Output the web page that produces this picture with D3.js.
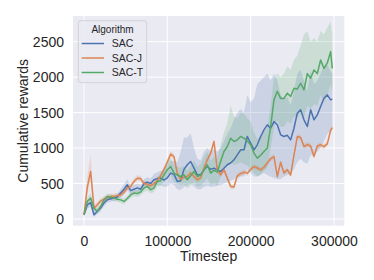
<!DOCTYPE html>
<html lang="en">
<head>
    <meta charset="UTF-8">
    <title>Cumulative rewards</title>
    <script src="https://d3js.org/d3.v7.min.js"></script>
    <style>
        body, html {
            margin: 0;
            background-color: #ffffff;
        }
        text {
            font-family: "Liberation Sans", Arial, sans-serif;
            fill: #262626;
        }
    </style>
</head>
<body>
<div id="chart"></div>
<script>
// timesteps (x)
var timesteps = [0, 4000, 8000, 12000, 16000, 20000, 24000, 28000, 32000, 36000,
    40000, 44000, 48000, 52000, 56000, 60000, 64000, 68000, 72000, 76000,
    80000, 84000, 88000, 92000, 96000, 100000, 104000, 108000, 112000, 116000,
    120000, 124000, 128000, 132000, 136000, 140000, 144000, 148000, 152000, 156000,
    160000, 164000, 168000, 172000, 176000, 180000, 184000, 188000, 192000, 196000,
    200000, 204000, 208000, 212000, 216000, 220000, 224000, 228000, 232000, 236000,
    240000, 244000, 248000, 252000, 256000, 260000, 264000, 268000, 272000, 276000,
    280000, 284000, 288000, 292000, 296000, 298000];

var algorithms = ["SAC", "SAC-J", "SAC-T"];

// SAC
var sacMean = [60, 200, 230, 60, 107, 155, 225, 272, 285, 295,
    310, 366, 420, 483, 400, 420, 440, 420, 500, 520,
    500, 553, 570, 577, 550, 580, 647, 630, 530, 540,
    700, 765, 811, 717, 624, 624, 694, 740, 700, 717,
    694, 670, 717, 765, 790, 835, 905, 975, 975, 1163,
    1070, 975, 1046, 1163, 1257, 1327, 1280, 1374, 1330, 1187,
    1163, 1180, 1116, 1280, 1492, 1540, 1398, 1304, 1540, 1400,
    1468, 1585, 1703, 1750, 1680, 1690];
var sacLow = [40, 150, 170, 30, 70, 110, 180, 230, 245, 255,
    265, 310, 350, 410, 340, 360, 380, 360, 440, 450,
    430, 470, 480, 480, 450, 460, 500, 480, 420, 410,
    450, 480, 500, 460, 420, 420, 450, 470, 450, 460,
    470, 480, 500, 520, 540, 560, 580, 600, 600, 700,
    650, 600, 600, 620, 650, 620, 600, 580, 560, 560,
    600, 620, 640, 700, 800, 850, 800, 780, 900, 900,
    950, 1000, 1100, 1200, 1250, 1300];
var sacHigh = [80, 260, 290, 100, 150, 200, 270, 310, 325, 335,
    355, 420, 490, 560, 460, 480, 500, 480, 560, 590,
    570, 640, 660, 680, 680, 760, 820, 820, 800, 950,
    1150, 1150, 1210, 1000, 850, 830, 950, 1000, 960, 980,
    950, 1000, 1100, 1200, 1280, 1400, 1500, 1550, 1500, 1750,
    1650, 1700, 1900, 1950, 2000, 2050, 1950, 2050, 1950, 1750,
    1700, 1720, 1600, 1800, 2050, 2100, 1950, 1800, 2100, 1900,
    1950, 2050, 2150, 2180, 2080, 2050];

// SAC-J
var sacjMean = [60, 450, 670, 150, 200, 255, 280, 300, 320, 318,
    330, 340, 380, 436, 460, 530, 575, 570, 500, 490,
    470, 500, 540, 610, 700, 800, 915, 880, 640, 560,
    590, 600, 647, 600, 553, 580, 718, 835, 929, 1092,
    694, 624, 694, 577, 460, 450, 610, 640, 660, 647,
    700, 740, 720, 694, 730, 788, 850, 880, 600, 800,
    650, 694, 620, 900, 1163, 1150, 1022, 1050, 1030, 881,
    1030, 1046, 1020, 1060, 1250, 1290];
var sacjLow = [40, 350, 560, 110, 160, 215, 240, 260, 280, 280,
    290, 300, 340, 395, 420, 490, 535, 530, 460, 450,
    430, 460, 500, 570, 660, 760, 870, 840, 610, 530,
    555, 565, 610, 565, 520, 545, 680, 800, 890, 1050,
    660, 590, 660, 540, 425, 415, 575, 605, 625, 610,
    665, 705, 685, 660, 695, 750, 815, 845, 565, 765,
    615, 660, 585, 865, 1125, 1115, 985, 1015, 995, 845,
    995, 1010, 985, 1025, 1215, 1255];
var sacjHigh = [80, 600, 910, 200, 240, 295, 320, 340, 360, 360,
    370, 380, 420, 480, 500, 570, 620, 610, 540, 530,
    510, 540, 580, 650, 740, 850, 960, 920, 680, 600,
    625, 635, 680, 635, 590, 615, 755, 870, 970, 1130,
    730, 660, 730, 615, 495, 485, 645, 675, 695, 685,
    735, 775, 755, 730, 765, 825, 885, 915, 635, 835,
    685, 730, 655, 935, 1200, 1185, 1060, 1085, 1065, 915,
    1065, 1080, 1055, 1095, 1285, 1325];

// SAC-T
var sactMean = [60, 250, 295, 150, 110, 177, 270, 318, 310, 295,
    280, 270, 248, 290, 340, 366, 360, 380, 436, 460,
    412, 440, 530, 540, 624, 694, 740, 647, 620, 600,
    620, 553, 610, 670, 600, 620, 694, 765, 647, 690,
    660, 811, 952, 1022, 1140, 1093, 1116, 1163, 1140, 1100,
    1046, 929, 858, 900, 952, 1000, 1304, 1680, 1800, 1700,
    1700, 1773, 1727, 1844, 1830, 1914, 1820, 2050, 1985, 2100,
    2050, 2242, 2124, 2200, 2360, 2124];
var sactLow = [40, 200, 230, 110, 80, 140, 230, 280, 270, 255,
    240, 230, 210, 250, 300, 320, 310, 330, 380, 400,
    360, 380, 460, 460, 530, 590, 620, 530, 500, 480,
    490, 430, 470, 520, 460, 470, 520, 580, 480, 500,
    470, 600, 700, 750, 800, 760, 780, 800, 780, 750,
    720, 650, 600, 630, 680, 720, 1000, 1300, 1400, 1300,
    1300, 1380, 1350, 1450, 1420, 1500, 1420, 1600, 1550, 1620,
    1600, 1750, 1650, 1750, 1900, 1800];
var sactHigh = [80, 310, 360, 200, 150, 220, 310, 360, 350, 335,
    320, 310, 290, 330, 380, 410, 410, 430, 490, 520,
    470, 500, 600, 620, 720, 800, 860, 770, 740, 720,
    750, 680, 750, 820, 740, 770, 870, 950, 820, 880,
    850, 1050, 1220, 1350, 1600, 1450, 1420, 1500, 1480, 1420,
    1370, 1220, 1120, 1170, 1230, 1280, 1600, 1980, 2050, 2000,
    2050, 2150, 2100, 2250, 2300, 2450, 2600, 2650, 2500, 2550,
    2500, 2650, 2600, 2700, 2780, 2600];

var xTicks = [0, 100000, 200000, 300000];
var yTicks = [0, 500, 1000, 1500, 2000, 2500];

var series = [
    {name: "SAC", mean: sacMean, low: sacLow, high: sacHigh},
    {name: "SAC-J", mean: sacjMean, low: sacjLow, high: sacjHigh},
    {name: "SAC-T", mean: sactMean, low: sactLow, high: sactHigh}
];

var color = d3.scaleOrdinal()
    .domain(algorithms)
    .range(["#4c72b0", "#dd8452", "#55a868"]);

var W = 374, H = 280;
var plot = {left: 73, right: 344.3, top: 16, bottom: 225.7};

var svg = d3.select("#chart")
  .append("svg")
    .attr("width", W)
    .attr("height", H);

var x = d3.scaleLinear()
    .domain([-13200, 312400])
    .range([plot.left, plot.right]);

var y = d3.scaleLinear()
    .domain([-94, 2862])
    .range([plot.bottom, plot.top]);

// axes background
svg.append("rect")
    .attr("x", plot.left)
    .attr("y", plot.top)
    .attr("width", plot.right - plot.left)
    .attr("height", plot.bottom - plot.top)
    .attr("fill", "#eaeaf2");

// grid lines
svg.selectAll(".vgrid")
    .data(xTicks)
    .enter().append("line")
    .attr("x1", d => x(d)).attr("x2", d => x(d))
    .attr("y1", plot.top).attr("y2", plot.bottom)
    .attr("stroke", "#ffffff")
    .attr("stroke-width", 1);

svg.selectAll(".hgrid")
    .data(yTicks)
    .enter().append("line")
    .attr("x1", plot.left).attr("x2", plot.right)
    .attr("y1", d => y(d)).attr("y2", d => y(d))
    .attr("stroke", "#ffffff")
    .attr("stroke-width", 1);

// x axis
var xAxis = svg.append("g")
    .attr("transform", "translate(0," + plot.bottom + ")")
    .call(d3.axisBottom(x).tickValues(xTicks).tickSize(0).tickPadding(10).tickFormat(d3.format("d")));
xAxis.select(".domain").remove();
xAxis.selectAll("text")
    .attr("font-size", 14)
    .attr("font-family", "Liberation Sans, Arial, sans-serif")
    .attr("fill", "#262626");

// y axis
var yAxis = svg.append("g")
    .attr("transform", "translate(" + plot.left + ",0)")
    .call(d3.axisLeft(y).tickValues(yTicks).tickSize(0).tickPadding(9).tickFormat(d3.format("d")));
yAxis.select(".domain").remove();
yAxis.selectAll("text")
    .attr("font-size", 14)
    .attr("font-family", "Liberation Sans, Arial, sans-serif")
    .attr("fill", "#262626");

// axis labels
svg.append("text")
    .attr("x", (plot.left + plot.right) / 2)
    .attr("y", 261)
    .attr("text-anchor", "middle")
    .attr("font-size", 14)
    .text("Timestep");

svg.append("text")
    .attr("transform", "translate(28," + ((plot.top + plot.bottom) / 2) + ") rotate(-90)")
    .attr("text-anchor", "middle")
    .attr("font-size", 14)
    .text("Cumulative rewards");

svg.append("clipPath").attr("id", "plotclip")
  .append("rect")
    .attr("x", plot.left).attr("y", plot.top)
    .attr("width", plot.right - plot.left)
    .attr("height", plot.bottom - plot.top);

var area = d3.area()
    .x(d => x(d.t))
    .y0(d => y(d.lo))
    .y1(d => y(d.hi));

var line = d3.line()
    .x(d => x(d.t))
    .y(d => y(d.v));

var marks = svg.append("g").attr("clip-path", "url(#plotclip)");

// confidence bands first, then the mean lines on top
series.forEach(function(s) {
    s.pts = timesteps.map(function(t, i) {
        return {t: t, v: s.mean[i], lo: s.low[i], hi: s.high[i]};
    });
    marks.append("path")
        .datum(s.pts)
        .attr("fill", color(s.name))
        .attr("fill-opacity", 0.2)
        .attr("stroke", "none")
        .attr("d", area);
});

series.forEach(function(s) {
    marks.append("path")
        .datum(s.pts)
        .attr("fill", "none")
        .attr("stroke", color(s.name))
        .attr("stroke-width", 1.5)
        .attr("stroke-linejoin", "round")
        .attr("d", line);
});

// legend
var legend = svg.append("g");
legend.append("rect")
    .attr("x", 78.3)
    .attr("y", 20.7)
    .attr("width", 68.4)
    .attr("height", 62)
    .attr("rx", 2.5)
    .attr("fill", "#eaeaf2")
    .attr("fill-opacity", 0.8)
    .attr("stroke", "#cccccc")
    .attr("stroke-width", 0.8);

legend.append("text")
    .attr("x", 112.5)
    .attr("y", 32.5)
    .attr("text-anchor", "middle")
    .attr("font-size", 10)
    .text("Algorithm");

var legendY = [43.5, 58, 72.5];
algorithms.forEach(function(name, i) {
    legend.append("line")
        .attr("x1", 81.7).attr("x2", 104)
        .attr("y1", legendY[i]).attr("y2", legendY[i])
        .attr("stroke", color(name))
        .attr("stroke-width", 1.5);
    legend.append("text")
        .attr("x", 111.7)
        .attr("y", legendY[i] + 3.8)
        .attr("font-size", 10.5)
        .text(name);
});
</script>
</body>
</html>
